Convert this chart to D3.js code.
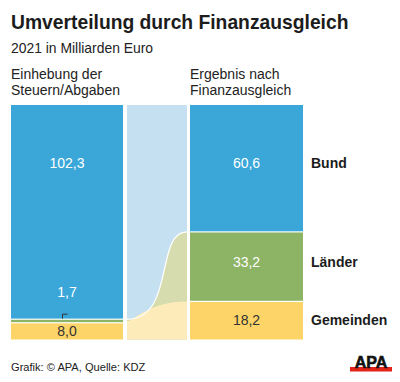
<!DOCTYPE html>
<html>
<head>
<meta charset="utf-8">
<script src="https://cdn.jsdelivr.net/npm/d3@7"></script>
<style>
  html, body { margin: 0; padding: 0; background: #fff; }
  svg { display: block; font-family: "Liberation Sans", Arial, sans-serif; }
</style>
</head>
<body>
<svg id="chart" width="400" height="382"></svg>
<script>
// ---- data ----
const categories = ["Bund", "Länder", "Gemeinden"];
const beforeValues = [102.3, 1.7, 8.0];   // Einhebung der Steuern/Abgaben
const afterValues  = [60.6, 33.2, 18.2];  // Ergebnis nach Finanzausgleich
const beforeLabels = ["102,3", "1,7", "8,0"];
const afterLabels  = ["60,6", "33,2", "18,2"];
const columnTitles = [["Einhebung der", "Steuern/Abgaben"], ["Ergebnis nach", "Finanzausgleich"]];
const title = "Umverteilung durch Finanzausgleich";
const subtitle = "2021 in Milliarden Euro";
const source = "Grafik: © APA, Quelle: KDZ";

// ---- styles ----
const barColors  = ["#3aa7d8", "#8cb464", "#fcd467"];
const flowColors = ["#c5e0f1", "#d6dcad", "#fdebba"];

const svg = d3.select("#chart");
const total = d3.sum(beforeValues);

const y = d3.scaleLinear().domain([0, total]).range([339.5, 105]);
const x = d3.scaleOrdinal().domain(["before", "flow", "after"]).range([11, 127, 190]);
const widths = { before: 112, flow: 60, after: 113 };

function stack(values) {
  let acc = total;
  return values.map((v, i) => {
    const top = acc, bottom = acc - v;
    acc = bottom;
    return { i, v, top, bottom };
  });
}
const sb = stack(beforeValues);
const sa = stack(afterValues);

// ---- title texts ----
svg.append("text").attr("x", 11).attr("y", 29).attr("font-size", 19.3).attr("font-weight", "bold")
  .attr("fill", "#1c1c1c").text(title);
svg.append("text").attr("x", 11).attr("y", 53).attr("font-size", 13.9).attr("fill", "#222").text(subtitle);

[["before", columnTitles[0]], ["after", columnTitles[1]]].forEach(([k, lines]) => {
  lines.forEach((l, j) => {
    svg.append("text").attr("x", x(k)).attr("y", 79 + j * 16).attr("font-size", 14)
      .attr("fill", "#222").text(l);
  });
});

// ---- flow band ----
const fx0 = x("flow"), fw = widths.flow, fx1 = fx0 + fw;
const flow = svg.append("g");
flow.append("rect").attr("x", fx0).attr("y", y(total)).attr("width", fw)
  .attr("height", y(0) - y(total)).attr("fill", flowColors[0]);

function curve(yl, yr, a, b) {
  const p = d3.path();
  p.moveTo(fx0, yl);
  p.bezierCurveTo(fx0 + a * fw, yl, fx0 + b * fw, yr, fx1, yr);
  return p;
}
function areaUnder(yl, yr, a, b) {
  const p = d3.path();
  p.moveTo(fx0, yl);
  p.bezierCurveTo(fx0 + a * fw, yl, fx0 + b * fw, yr, fx1, yr);
  p.lineTo(fx1, y(0));
  p.lineTo(fx0, y(0));
  p.closePath();
  return p.toString();
}
flow.append("path").attr("d", areaUnder(y(sb[0].bottom), y(sa[0].bottom), 0.81, 0.46))
  .attr("fill", flowColors[1]);
flow.append("path").attr("d", areaUnder(y(sb[1].bottom) - 1.5, y(sa[1].bottom), 0.1, 0.37))
  .attr("fill", flowColors[2]);
flow.append("path").attr("d", curve(y(sb[0].bottom), y(sa[0].bottom), 0.81, 0.46).toString())
  .attr("fill", "none").attr("stroke", "#fff").attr("stroke-width", 1.2);

// ---- bars ----
function drawBar(key, st) {
  const g = svg.append("g");
  g.selectAll("rect").data(st).join("rect")
    .attr("x", x(key)).attr("width", widths[key])
    .attr("y", d => y(d.top) + (d.i > 0 ? 0.6 : 0))
    .attr("height", d => Math.max(0, y(d.bottom) - y(d.top) - (d.i > 0 ? 0.6 : 0) - (d.i < 2 ? 0.6 : 0)))
    .attr("fill", d => barColors[d.i]);
}
drawBar("before", sb);
drawBar("after", sa);

// ---- value labels ----
const cxB = x("before") + widths.before / 2;
const cxA = x("after") + widths.after / 2;
const afterBase = sa.map(d => (y(d.top) + y(d.bottom)) / 2 + [0, 0, 5][d.i]);
afterBase[0] = 168;

svg.selectAll(".va").data(sa).join("text").attr("class", "va")
  .attr("x", cxA).attr("y", d => afterBase[d.i])
  .attr("text-anchor", "middle").attr("font-size", 14)
  .attr("fill", d => d.i === 2 ? "#333" : "#fff").text(d => afterLabels[d.i]);

svg.selectAll(".cat").data(categories).join("text").attr("class", "cat")
  .attr("x", 311).attr("y", (d, i) => afterBase[i]).attr("font-size", 14)
  .attr("font-weight", "bold").attr("fill", "#1c1c1c").text(d => d);

const beforeBase = [168, 297, (y(sb[2].top) + y(sb[2].bottom)) / 2 + 5];
svg.selectAll(".vb").data(sb).join("text").attr("class", "vb")
  .attr("x", cxB).attr("y", d => beforeBase[d.i])
  .attr("text-anchor", "middle").attr("font-size", 14)
  .attr("fill", d => d.i === 2 ? "#333" : "#fff").text(d => beforeLabels[d.i]);

// leader for the small Länder value
const ly = y(sb[0].bottom);
svg.append("path")
  .attr("d", `M${cxB - 4.5},${ly - 0.5} V${ly - 5} h5`)
  .attr("fill", "none").attr("stroke", "#333").attr("stroke-width", 1);

// ---- footer ----
svg.append("text").attr("x", 11).attr("y", 371).attr("font-size", 11.1).attr("fill", "#222").text(source);
const logo = svg.append("g");
logo.append("rect").attr("x", 350).attr("y", 367).attr("width", 42).attr("height", 4.5).attr("fill", "#e2231a");
logo.append("text").attr("x", 371).attr("y", 368).attr("text-anchor", "middle")
  .attr("font-size", 16).attr("font-weight", "bold").attr("fill", "#111")
  .attr("stroke", "#111").attr("stroke-width", 0.6).text("APA");
</script>
</body>
</html>
